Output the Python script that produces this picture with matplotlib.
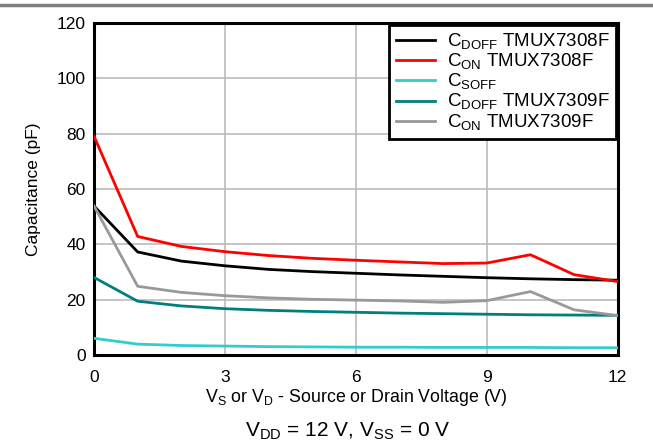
#!/usr/bin/env python3
"""Capacitance vs source/drain voltage for TMUX7308F / TMUX7309F."""

import matplotlib

matplotlib.use("Agg")
import matplotlib.pyplot as plt
from matplotlib.lines import Line2D

plt.rcParams["font.family"] = ["Liberation Sans", "DejaVu Sans"]
plt.rcParams["mathtext.fontset"] = "custom"
plt.rcParams["mathtext.rm"] = "Liberation Sans"

voltage = [0, 1, 2, 3, 4, 5, 6, 7, 8, 9, 10, 11, 12]
cdoff_7308 = [53.8, 37.2, 33.9, 32.2, 30.9, 30.1, 29.5, 28.9, 28.4, 27.9, 27.5, 27.2, 27.0]
con_7308 = [79.0, 42.8, 39.2, 37.3, 35.9, 34.9, 34.2, 33.6, 33.0, 33.2, 36.2, 29.0, 26.5]
csoff = [6.0, 3.9, 3.4, 3.2, 3.0, 2.9, 2.8, 2.8, 2.7, 2.7, 2.7, 2.6, 2.6]
cdoff_7309 = [28.0, 19.4, 17.7, 16.7, 16.1, 15.7, 15.4, 15.1, 14.9, 14.7, 14.5, 14.4, 14.3]
con_7309 = [53.8, 24.8, 22.6, 21.4, 20.6, 20.1, 19.8, 19.5, 19.0, 19.6, 22.9, 16.3, 14.2]

series = [
    (cdoff_7308, "#000000", r"C$_\mathregular{DOFF}$ TMUX7308F"),
    (con_7308, "#ff0000", r"C$_\mathregular{ON}$ TMUX7308F"),
    (csoff, "#33cccc", r"C$_\mathregular{SOFF}$"),
    (cdoff_7309, "#007f7f", r"C$_\mathregular{DOFF}$ TMUX7309F"),
    (con_7309, "#999999", r"C$_\mathregular{ON}$ TMUX7309F"),
]

fig = plt.figure(figsize=(6.53, 4.47), dpi=100)
ax = fig.add_axes([0.144, 0.206, 0.802, 0.743])

for values, color, label in series:
    ax.plot(voltage, values, color=color, linewidth=2, label=label, zorder=3)

ax.set_xlim(0, 12)
ax.set_ylim(0, 120)
ax.set_xticks([0, 3, 6, 9, 12])
ax.set_yticks([0, 20, 40, 60, 80, 100, 120])
ax.grid(True, color="#bbbbbb", linewidth=1.2)
ax.tick_params(labelsize=12.5, length=0)
ax.tick_params(axis="x", pad=11)
ax.tick_params(axis="y", pad=6)
for spine in ax.spines.values():
    spine.set_linewidth(2.2)
    spine.set_color("black")

ax.set_xlabel(r"V$_\mathregular{S}$ or V$_\mathregular{D}$ - Source or Drain Voltage (V)",
              fontsize=12.8, labelpad=1)
ax.set_ylabel("Capacitance (pF)", fontsize=12.5, labelpad=11)

leg = ax.legend(loc="upper right", fontsize=13.5, frameon=True, fancybox=False,
                framealpha=1, edgecolor="black", borderaxespad=0.1,
                handlelength=2.1, labelspacing=0.0, borderpad=0.35, handletextpad=0.6)
leg.get_frame().set_linewidth(2)

fig.text(0.533, 0.036, r"V$_\mathregular{DD}$ = 12 V, V$_\mathregular{SS}$ = 0 V",
         ha="center", va="center", fontsize=15)
fig.add_artist(Line2D([0, 1], [0.989, 0.989], color="#808080", linewidth=2.5))

fig.savefig("out.png", dpi=100)
